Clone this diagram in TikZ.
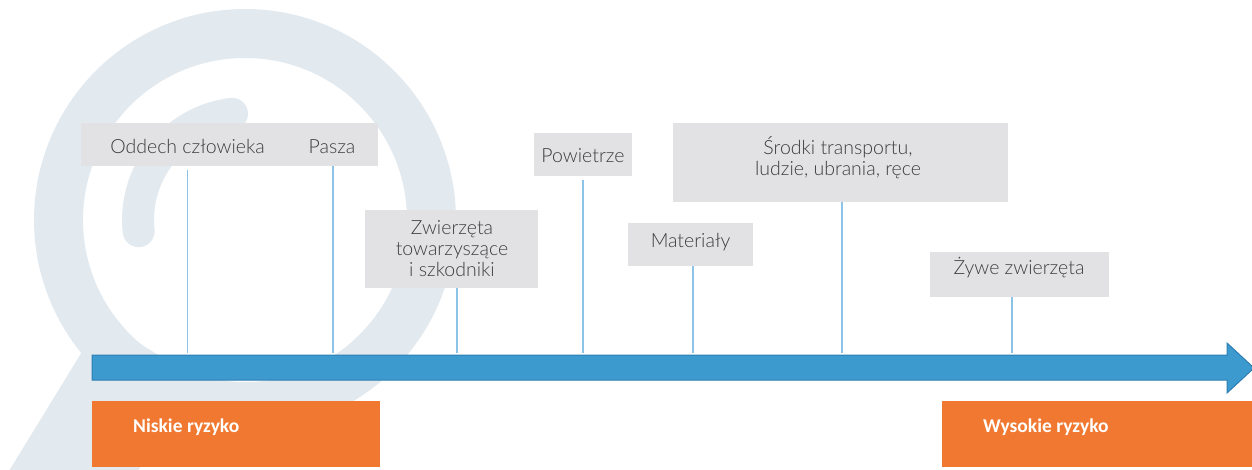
\documentclass[tikz,border=0pt]{standalone}
\usepackage{fontspec}
\setmainfont{Lato}
\newfontfamily\lightf{Lato Light}
\newfontfamily\calf{Carlito}
\definecolor{wm}{HTML}{E3EAEF}
\definecolor{boxgrey}{HTML}{E2E2E4}
\definecolor{txt}{HTML}{3C3C3C}
\definecolor{barblue}{HTML}{3C9ACE}
\definecolor{barborder}{HTML}{2E7DB3}
\definecolor{tick}{HTML}{8CC3E6}
\definecolor{risk}{HTML}{F07830}
\begin{document}
\begin{tikzpicture}[x=1pt,y=-1pt,
  gbox/.style={fill=boxgrey, draw=none, inner sep=0pt},
  obox/.style={fill=risk, draw=none, inner sep=0pt},
  lbl/.style={font=\lightf\fontsize{19.5}{20.8}\selectfont, text=txt, inner sep=0pt, align=center},
  rlbl/.style={font=\calf\bfseries\fontsize{19.5}{22}\selectfont, text=white, inner sep=0pt, anchor=base west},
  ticks/.style={draw=tick, line width=1.2pt}]
\useasboundingbox (0,0) rectangle (1252,469);
\clip (0,0) rectangle (1252,469);
% watermark (magnifying glass)
\fill[wm] (101.4,320) -- (-21,520) -- (73,577) -- (195,377.5) -- cycle;
\draw[wm, line width=49pt] (245,220) circle[radius=186.5];
\draw[wm, line width=32pt, line cap=round] (232,113.8) arc[start angle=-97, end angle=-186, radius=107];
% arrow
\fill[barblue, draw=barborder, line width=1pt]
  (92,355) -- (1227,355) -- (1227,343) -- (1254,368) -- (1227,393) -- (1227,380) -- (92,380) -- cycle;
\coordinate (bartop) at (92,353);
% grey boxes
\node[gbox, minimum width=297pt, minimum height=43pt] (box1) at (229.5,144.5) {};
\node[gbox, minimum width=173pt, minimum height=78pt] (zwbox) at (451.5,249) {};
\node[gbox, minimum width=98pt, minimum height=43pt] (powbox) at (583,154.5) {};
\node[gbox, minimum width=125pt, minimum height=43pt] (matbox) at (690.5,244.5) {};
\node[gbox, minimum width=335pt, minimum height=79pt] (srbox) at (840.5,162.5) {};
\node[gbox, minimum width=179pt, minimum height=45pt] (zybox) at (1019.5,274.5) {};
% labels
\node[lbl, anchor=base] (oddech) at (187.5,153.3) {Oddech człowieka};
\node[lbl, anchor=base] (pasza) at (332,153.3) {Pasza};
\node[lbl] (zw) at (452,248.5) {Zwierzęta\\towarzyszące\\i szkodniki};
\node[lbl, anchor=base] (pow) at (583,162.3) {Powietrze};
\node[lbl, anchor=base] (mat) at (690.5,247.3) {Materiały};
\node[lbl] (sr) at (838,158) {Środki transportu,\\ludzie, ubrania, ręce};
\node[lbl, anchor=base] (zy) at (1019,274.3) {Żywe zwierzęta};
% ticks
\draw[ticks] ([yshift=-4pt]box1.south -| oddech) -- (oddech |- bartop);
\draw[ticks] (box1.south -| 333,0) -- (333,0 |- bartop);
\draw[ticks] (zwbox.south -| 457,0) -- (457,0 |- bartop);
\draw[ticks] ([yshift=-4pt]powbox.south) -- (powbox |- bartop);
\draw[ticks] (matbox.south -| 693,0) -- (693,0 |- bartop);
\draw[ticks] (srbox.south -| 842,0) -- (842,0 |- bartop);
\draw[ticks] (zybox.south -| 1012,0) -- (1012,0 |- bartop);
% risk boxes
\node[obox, minimum width=288pt, minimum height=66pt, anchor=north west] (low) at (92,401) {};
\node[obox, minimum width=312pt, minimum height=66pt, anchor=north west] (high) at (942,401) {};
\node[rlbl] (lowt) at (133,432.5) {Niskie ryzyko};
\node[rlbl] (hight) at (983,432.5) {Wysokie ryzyko};
\end{tikzpicture}
\end{document}
